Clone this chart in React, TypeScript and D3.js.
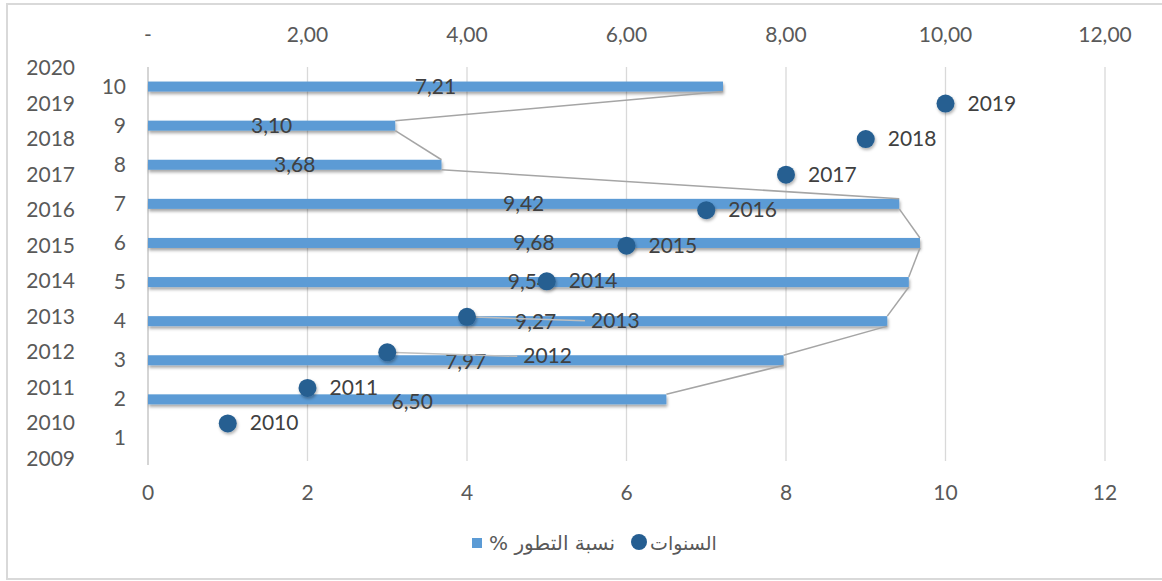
import React from "react";
import * as d3 from "d3";

const categories = [1, 2, 3, 4, 5, 6, 7, 8, 9, 10];
const growthPct: (number | null)[] = [null, 6.5, 7.97, 9.27, 9.54, 9.68, 9.42, 3.68, 3.1, 7.21];
const pointX = [1, 2, 3, 4, 5, 6, 7, 8, 9, 10];
const pointYears = [2010, 2011, 2012, 2013, 2014, 2015, 2016, 2017, 2018, 2019];
const valueTicks = [0, 2, 4, 6, 8, 10, 12];
const yearTicks = [2009, 2010, 2011, 2012, 2013, 2014, 2015, 2016, 2017, 2018, 2019, 2020];
const legendBar = "% نسبة التطور";
const legendPoint = "السنوات";

// label layout tweaks (Excel manual label positions)
const pointLabelShift: Record<number, [number, number]> = {
  2012: [136, 4],
  2013: [124, 4],
};
const barLabelShift: Record<number, [number, number]> = {
  2: [5, 3],
  3: [0, 2],
  4: [18, 1],
};

const W = 1162;
const H = 581;
const FONT = "Lato, 'DejaVu Sans', sans-serif";
const TXT = "#595959";

export default function App() {
  const x = d3.scaleLinear().domain([0, 12]).range([148, 1105]);
  const yYear = d3.scaleLinear().domain([2009, 2020]).range([459, 68]);
  const yCat = d3
    .scaleBand<number>()
    .domain([...categories].reverse())
    .range([68, 459])
    .paddingInner(0)
    .paddingOuter(0);
  const barH = 10;
  const catCenter = (c: number) => (yCat(c) as number) + yCat.bandwidth() / 2 - 1;
  const fmtTop = (v: number) => (v === 0 ? "-" : d3.format(".2f")(v).replace(".", ","));
  const fmtVal = (v: number) => d3.format(".2f")(v).replace(".", ",");

  // series lines between consecutive bar ends
  const seriesLines: { x1: number; y1: number; x2: number; y2: number }[] = [];
  for (let i = categories.length - 1; i > 0; i--) {
    const vTop = growthPct[i];
    const vBot = growthPct[i - 1];
    if (vTop == null || vBot == null) continue;
    seriesLines.push({
      x1: x(vTop),
      y1: catCenter(categories[i]) + barH / 2,
      x2: x(vBot),
      y2: catCenter(categories[i - 1]) - barH / 2,
    });
  }

  return (
    <svg
      width={W}
      height={H}
      style={{ position: "absolute", left: 0, top: 0, background: "#fff" }}
      fontFamily={FONT}
    >
      <defs>
        <filter id="barShadow" x="-5%" y="-50%" width="110%" height="250%">
          <feDropShadow dx="1" dy="2.5" stdDeviation="1.5" floodColor="#000" floodOpacity="0.35" />
        </filter>
        <filter id="ptShadow" x="-50%" y="-50%" width="200%" height="200%">
          <feDropShadow dx="1" dy="2" stdDeviation="1.8" floodColor="#000" floodOpacity="0.3" />
        </filter>
      </defs>
      <rect x={7} y={4} width={1160} height={575} fill="#fff" stroke="#d9d9d9" strokeWidth={2} />

      {/* gridlines */}
      {valueTicks.map((t) => (
        <line
          key={"g" + t}
          x1={x(t)}
          x2={x(t)}
          y1={67}
          y2={t === 0 ? 465 : 461}
          stroke={t === 0 ? "#bfbfbf" : "#d9d9d9"}
          strokeWidth={1.3}
        />
      ))}

      {/* top axis labels */}
      {valueTicks.map((t) => (
        <text key={"tt" + t} x={x(t)} y={42} fontSize={21} fill={TXT} textAnchor="middle">
          {fmtTop(t)}
        </text>
      ))}
      {/* bottom axis labels */}
      {valueTicks.map((t) => (
        <text key={"bt" + t} x={x(t)} y={500} fontSize={21} fill={TXT} textAnchor="middle">
          {t}
        </text>
      ))}
      {/* year axis labels */}
      {yearTicks.map((t) => (
        <text key={"yt" + t} x={75} y={yYear(t) + 7} fontSize={21} fill={TXT} textAnchor="end">
          {t}
        </text>
      ))}
      {/* category labels */}
      {categories.map((c) => (
        <text key={"ct" + c} x={126} y={catCenter(c) + 7} fontSize={21} fill={TXT} textAnchor="end">
          {c}
        </text>
      ))}

      {/* bars */}
      {categories.map((c, i) => {
        const v = growthPct[i];
        if (v == null) return null;
        return (
          <rect
            key={"b" + c}
            x={x(0)}
            y={catCenter(c) - barH / 2}
            width={x(v) - x(0)}
            height={barH}
            fill="#5b9bd5"
            filter="url(#barShadow)"
          />
        );
      })}

      {/* series lines */}
      {seriesLines.map((l, i) => (
        <line key={"sl" + i} x1={l.x1} y1={l.y1} x2={l.x2} y2={l.y2} stroke="#a5a5a5" strokeWidth={1.5} />
      ))}

      {/* bar value labels */}
      {categories.map((c, i) => {
        const v = growthPct[i];
        if (v == null) return null;
        const sh = barLabelShift[c] || [0, 0];
        return (
          <text
            key={"bl" + c}
            x={(x(0) + x(v)) / 2 + sh[0]}
            y={catCenter(c) + 7 + sh[1]}
            fontSize={21}
            fill="#404040"
            textAnchor="middle"
          >
            {fmtVal(v)}
          </text>
        );
      })}

      {/* leader lines */}
      {pointYears.map((yr, i) => {
        const sh = pointLabelShift[yr];
        if (!sh) return null;
        const px = x(pointX[i]);
        const py = yYear(yr);
        return (
          <line key={"ll" + yr} x1={px} y1={py} x2={px + sh[0] - 6} y2={py + sh[1]} stroke="#bfbfbf" strokeWidth={1.5} />
        );
      })}

      {/* points */}
      {pointYears.map((yr, i) => (
        <circle
          key={"p" + yr}
          cx={x(pointX[i])}
          cy={yYear(yr)}
          r={9}
          fill="#255e91"
          filter="url(#ptShadow)"
        />
      ))}

      {/* point labels */}
      {pointYears.map((yr, i) => {
        const sh = pointLabelShift[yr] || [22, 0];
        return (
          <text
            key={"pl" + yr}
            x={x(pointX[i]) + sh[0]}
            y={yYear(yr) + 7 + sh[1]}
            fontSize={21}
            fill="#404040"
            textAnchor="start"
          >
            {yr}
          </text>
        );
      })}

      {/* legend */}
      <rect x={472} y={538} width={10} height={10} fill="#5b9bd5" />
      <text x={489} y={550} fontSize={20} fill={TXT} fontFamily="'DejaVu Sans', sans-serif">
        {legendBar}
      </text>
      <circle cx={639} cy={542} r={8} fill="#255e91" />
      <text x={650} y={550} fontSize={19} fill={TXT} fontFamily="'DejaVu Sans', sans-serif">
        {legendPoint}
      </text>
    </svg>
  );
}
